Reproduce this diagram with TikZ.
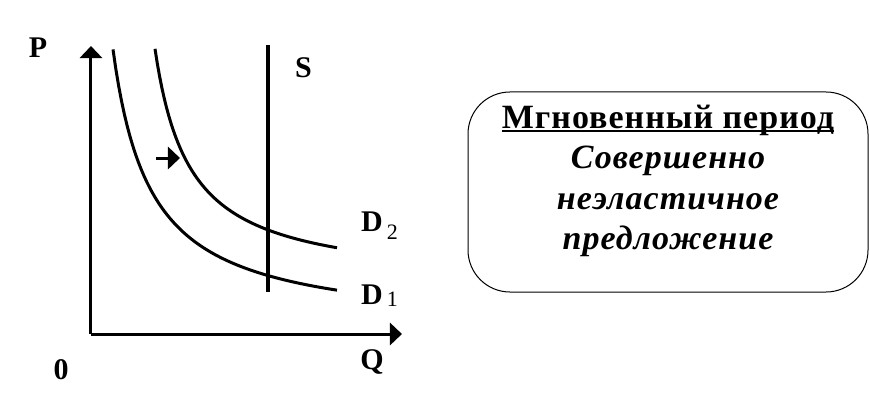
\documentclass[tikz,border=0pt]{standalone}
\usepackage{fontspec}
\setmainfont{Liberation Serif}
\usepackage{tkz-euclide}
\usetikzlibrary{arrows.meta,calc}

\begin{document}
\begin{tikzpicture}[scale=0.35146,
    axis/.style={line width=3pt, -{Triangle[length=12pt,width=22pt]}},
    curve/.style={line width=3pt, samples=80},
    lbl/.style={font=\fontsize{30}{30}\selectfont\bfseries, inner sep=0pt},
    boxtext/.style={font=\fontsize{34}{34}\selectfont\bfseries\addfontfeatures{LetterSpace=3},
        inner sep=0pt, anchor=base}]
    \useasboundingbox (0,0) rectangle (86.9,40.1);
    \tkzDefPoints{9.1/6.7/O, 9.1/35.5/Ptop, 40.2/6.7/Qend}
    \tkzDefPoints{26.8/35.6/Stop, 26.8/10.9/Sbot}
    \tkzDefPoints{15.6/24.3/A, 18.0/24.3/B}
    % axes
    \draw[axis] (O) -- (Ptop);
    \draw[axis] (O) -- (Qend);
    % demand curves
    \draw[curve, domain=11.3:33.7] plot (\x, {7+107/(\x-7.5)});
    \draw[curve, domain=15.5:33.7] plot (\x, {11.5+83/(\x-12)});
    % supply
    \draw[line width=3.5pt] (Stop) -- (Sbot);
    % shift of demand
    \draw[axis] (A) -- (B);
    \node[lbl] (p) at (3.8,35.3) {P};
    \node[lbl] (s) at (30.35,33.3) {S};
    \node[lbl] (zero) at (6.1,3.15) {0};
    \node[lbl] (q) at (37.2,3.9) {Q};
    \node[lbl, anchor=base west] (d2) at (36.1,17.0)
        {D\kern4pt\raisebox{-8pt}{\mdseries\fontsize{22}{22}\selectfont 2}};
    \node[lbl, anchor=base west] (d1) at (36.1,9.7)
        {D\kern4pt\raisebox{-2pt}{\mdseries\fontsize{22}{22}\selectfont 1}};
    % period box
    \node[draw, line width=1pt, rounded corners=42pt, minimum width=400pt,
        minimum height=200pt] (period) at (66.8,20.9) {};
    \node[boxtext] (title) at (66.8,27.3) {Мгновенный период};
    \draw[line width=2pt] ($(title.base west)+(0,-0.3)$) -- ($(title.base east)+(0,-0.3)$);
    \node[boxtext] (line1) at (66.8,23.3) {\itshape Совершенно};
    \node[boxtext] (line2) at (66.8,19.2) {\itshape неэластичное};
    \node[boxtext] (line3) at (66.8,15.2) {\itshape предложение};
\end{tikzpicture}
\end{document}
